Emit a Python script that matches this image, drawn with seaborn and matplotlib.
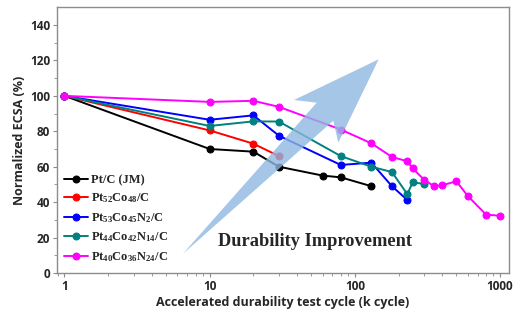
import matplotlib
matplotlib.use("Agg")
import matplotlib.pyplot as plt
import seaborn as sns
import pandas as pd
from matplotlib.patches import Polygon
from matplotlib.ticker import FixedLocator, LogLocator, NullFormatter, FixedFormatter

# ---- data ----
labels = [r"Pt/C (JM)",
          r"Pt$_{52}$Co$_{48}$/C",
          r"Pt$_{53}$Co$_{45}$N$_{2}$/C",
          r"Pt$_{44}$Co$_{42}$N$_{14}$/C",
          r"Pt$_{40}$Co$_{36}$N$_{24}$/C"]
colors = ["#000000", "#ff0000", "#0000ff", "#008080", "#ff00ff"]

ptc_x = [1, 10, 20, 30, 60, 80, 130]
ptc_y = [100, 70, 68.5, 60, 55, 54, 49]
ptco_x = [1, 10, 20, 30]
ptco_y = [100, 80.5, 73, 66]
n2_x = [1, 10, 20, 30, 80, 130, 180, 230]
n2_y = [100, 86.5, 89, 77.5, 61, 62.3, 49, 41.2]
n14_x = [1, 10, 20, 30, 80, 130, 180, 230, 250, 300]
n14_y = [100, 83, 85.6, 85.5, 66, 60, 57, 44.5, 51.2, 50.3]
n24_x = [1, 10, 20, 30, 80, 130, 180, 230, 250, 300, 350, 400, 500, 600, 800, 1000]
n24_y = [100, 96.6, 97.2, 93.8, 81, 73.2, 65.5, 63.1, 59, 52.7, 49, 49.5, 51.8, 43.5, 33, 32.3]

xs = [ptc_x, ptco_x, n2_x, n14_x, n24_x]
ys = [ptc_y, ptco_y, n2_y, n14_y, n24_y]

x_ticks = [1, 10, 100, 1000]
x_ticklabels = ["1", "10", "100", "1000"]
y_ticks = [0, 20, 40, 60, 80, 100, 120, 140]

# ---- style ----
sns.set_style("white")
plt.rcParams["font.family"] = ["Open Sans", "DejaVu Sans"]
plt.rcParams["mathtext.fontset"] = "custom"
plt.rcParams["mathtext.rm"] = "Liberation Serif:bold"
plt.rcParams["mathtext.bf"] = "Liberation Serif:bold"
plt.rcParams["mathtext.it"] = "Liberation Serif:bold"
plt.rcParams["mathtext.default"] = "bf"

fig = plt.figure(figsize=(5.31, 3.22), dpi=100)
ax = fig.add_axes([57/531, 1-273/322, (509-57)/531, (273-7.3)/322])

for x, y, lab, c in zip(xs, ys, labels, colors):
    df = pd.DataFrame({"x": x, "y": y})
    sns.lineplot(data=df, x="x", y="y", ax=ax, color=c, label=lab,
                 marker="o", markersize=5, markeredgecolor=c, linewidth=1.4,
                 sort=False, estimator=None)

ax.set_xscale("log")
ax.set_xlim(0.888, 1153)
ax.set_ylim(0, 150)

ax.xaxis.set_major_locator(FixedLocator(x_ticks))
ax.xaxis.set_major_formatter(FixedFormatter(x_ticklabels))
ax.xaxis.set_minor_locator(LogLocator(base=10, subs=range(2, 10), numticks=20))
ax.xaxis.set_minor_formatter(NullFormatter())
ax.yaxis.set_major_locator(FixedLocator(y_ticks))
ax.yaxis.set_minor_locator(FixedLocator([10, 30, 50, 70, 90, 110, 130]))

for s in ax.spines.values():
    s.set_color("#8c8c8c")
    s.set_linewidth(1.0)

ax.tick_params(axis="both", which="major", direction="out", length=3, width=0.8,
               color="#8c8c8c", labelsize=8.5, pad=2, bottom=True, left=True)
ax.tick_params(axis="both", which="minor", direction="out", length=2, width=0.6,
               color="#8c8c8c", bottom=True, left=True)
for t in ax.get_xticklabels() + ax.get_yticklabels():
    t.set_fontweight("bold")

ax.set_xlabel("Accelerated durability test cycle (k cycle)", fontsize=9,
              fontweight="bold", labelpad=2)
ax.set_ylabel("Normalized ECSA (%)", fontsize=9, fontweight="bold", labelpad=3)

leg = ax.legend(loc="lower left", bbox_to_anchor=(0.015, 0.035), frameon=False,
                prop={"family": "Liberation Serif", "weight": "bold", "size": 9},
                handlelength=1.9, handletextpad=0.3, labelspacing=0.45,
                borderpad=0, borderaxespad=0)

# decorative arrow (figure pixel geometry)
pts_px = [(182.7, 254), (333.3, 120.7), (338.3, 142.7), (378.7, 59.3),
          (294, 100), (316.7, 102.7)]
pts = [(px / 531, 1 - py / 322) for px, py in pts_px]
arrow = Polygon(pts, closed=True, transform=fig.transFigure,
                facecolor="#8fb8e0", edgecolor="none", alpha=0.8, zorder=5)
fig.patches.append(arrow)

fig.text(315.5 / 531, 1 - 241 / 322, "Durability Improvement",
         family="Liberation Serif", fontweight="bold", fontsize=13.2,
         ha="center", va="center")

fig.savefig("out.png", dpi=100)
